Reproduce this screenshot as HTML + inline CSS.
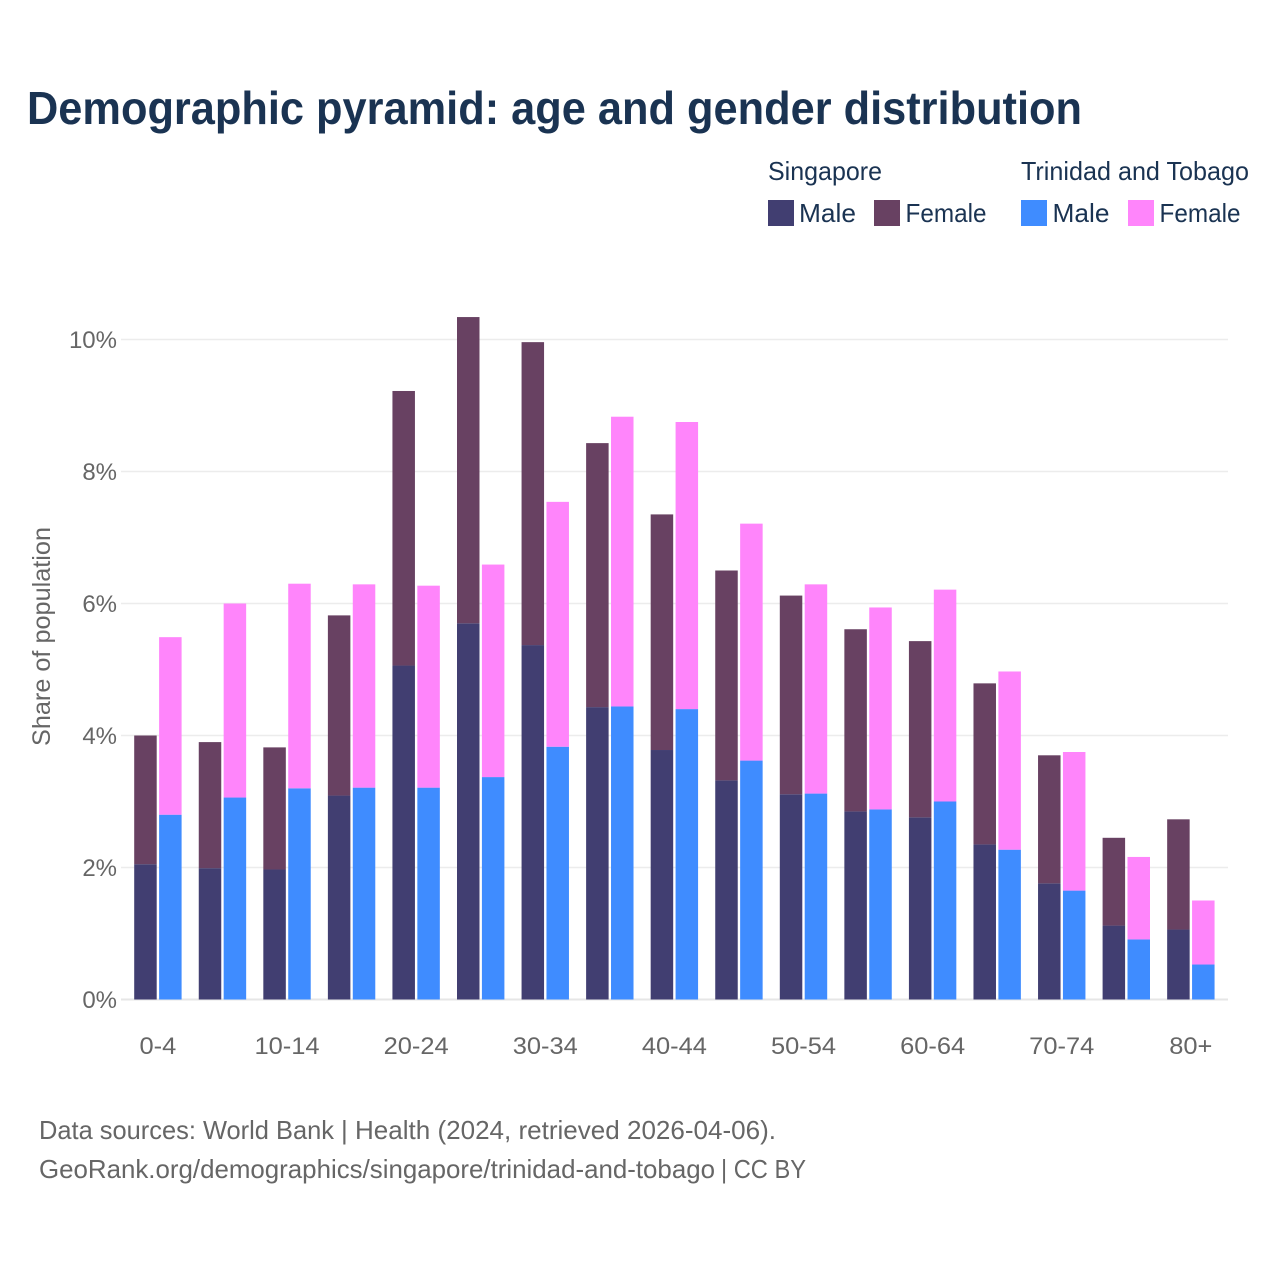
<!DOCTYPE html>
<html lang="en">
<head>
<meta charset="utf-8">
<title>Demographic pyramid: age and gender distribution</title>
<style>
html,body{margin:0;padding:0;background:#fff;width:1280px;height:1280px;overflow:hidden}
svg{display:block}
text{font-family:"Liberation Sans",sans-serif}
</style>
</head>
<body>
<svg id="chart" xmlns="http://www.w3.org/2000/svg" width="1280" height="1280" viewBox="0 0 1280 1280">
<rect x="0" y="0" width="1280" height="1280" fill="#fff"/>
<text x="27" y="124" font-size="46" font-weight="700" fill="#1a3352" textLength="1055" lengthAdjust="spacingAndGlyphs">Demographic pyramid: age and gender distribution</text>

<g font-size="26" fill="#1a3352">
<text x="768" y="180" textLength="114" lengthAdjust="spacingAndGlyphs">Singapore</text>
<text x="1021" y="180" textLength="228" lengthAdjust="spacingAndGlyphs">Trinidad and Tobago</text>
<rect x="768" y="200" width="26" height="26" fill="#413e71"/>
<text x="799" y="222" textLength="57" lengthAdjust="spacingAndGlyphs">Male</text>
<rect x="874" y="200" width="26" height="26" fill="#684162"/>
<text x="905.5" y="222" textLength="81" lengthAdjust="spacingAndGlyphs">Female</text>
<rect x="1021" y="200" width="26" height="26" fill="#3f8cff"/>
<text x="1052.5" y="222" textLength="57" lengthAdjust="spacingAndGlyphs">Male</text>
<rect x="1128" y="200" width="26" height="26" fill="#ff85fb"/>
<text x="1159.5" y="222" textLength="81" lengthAdjust="spacingAndGlyphs">Female</text>
</g>

<g id="grid"></g>
<g id="bars"></g>
<g id="y-ticks"></g>
<g id="x-ticks"></g>

<text transform="translate(50,636.5) rotate(-90)" text-anchor="middle" font-size="25" fill="#666" textLength="219" lengthAdjust="spacingAndGlyphs">Share of population</text>

<text y="1139" font-size="26" fill="#666"><tspan x="39" textLength="295" lengthAdjust="spacingAndGlyphs">Data sources: World Bank</tspan> <tspan x="341" textLength="435" lengthAdjust="spacingAndGlyphs">| Health (2024, retrieved 2026-04-06).</tspan></text>
<text y="1178" font-size="26" fill="#666"><tspan x="39" textLength="676" lengthAdjust="spacingAndGlyphs">GeoRank.org/demographics/singapore/trinidad-and-tobago</tspan> <tspan x="721" textLength="85" lengthAdjust="spacingAndGlyphs">| CC BY</tspan></text>
</svg>

<script>
const categories = ['0-4','5-9','10-14','15-19','20-24','25-29','30-34','35-39','40-44','45-49','50-54','55-59','60-64','65-69','70-74','75-79','80+'];
const xTickLabels = ['0-4','10-14','20-24','30-34','40-44','50-54','60-64','70-74','80+'];
const yTickValues = [0,2,4,6,8,10];
const singaporeMale = [2.05,1.99,1.97,3.09,5.06,5.70,5.37,4.43,3.78,3.32,3.11,2.85,2.76,2.35,1.76,1.12,1.06];
const singaporeFemale = [1.95,1.91,1.85,2.73,4.16,4.64,4.59,4.00,3.57,3.18,3.01,2.76,2.67,2.44,1.94,1.33,1.67];
const trinidadMale = [2.80,3.06,3.20,3.21,3.21,3.37,3.83,4.44,4.40,3.62,3.12,2.88,3.00,2.27,1.65,0.91,0.53];
const trinidadFemale = [2.69,2.94,3.10,3.08,3.06,3.22,3.71,4.39,4.35,3.59,3.17,3.06,3.21,2.70,2.10,1.25,0.97];

const NS = 'http://www.w3.org/2000/svg';
const plotLeft = 121, plotRight = 1228;
const yZero = 999.5, pxPerUnit = 66;
const firstCenter = 157.9, bandStep = 64.56;
const barWidth = 22.5, barGap = 1.2;
const xLabelStretch = 1.06;

function yScale(v){ return yZero - v * pxPerUnit; }
function xCenter(i){ return firstCenter + i * bandStep; }

const gridG = document.getElementById('grid');
const yTickG = document.getElementById('y-ticks');
yTickValues.forEach(function(v){
  const line = document.createElementNS(NS,'line');
  
  
  line.setAttribute('x1', plotLeft);
  line.setAttribute('x2', plotRight);
  line.setAttribute('y1', yScale(v));
  line.setAttribute('y2', yScale(v));
  line.setAttribute('stroke', v === 0 ? '#e6e6e6' : '#ececec');
  line.setAttribute('stroke-width', v === 0 ? 2 : 1.5);
  gridG.appendChild(line);
  const t = document.createElementNS(NS,'text');
  
  
  t.setAttribute('x', 117);
  t.setAttribute('y', yScale(v) + 8.5);
  t.setAttribute('text-anchor', 'end');
  t.setAttribute('font-size', 24);
  t.setAttribute('fill', '#666');
  t.textContent = v + '%';
  yTickG.appendChild(t);
});

const barsG = document.getElementById('bars');
function addBar(x, base, value, fill){
  const r = document.createElementNS(NS,'rect');
  
  
  r.setAttribute('x', x);
  r.setAttribute('width', barWidth);
  r.setAttribute('y', yScale(base + value));
  r.setAttribute('height', value * pxPerUnit);
  r.setAttribute('fill', fill);
  barsG.appendChild(r);
}
categories.forEach(function(c, i){
  const cx = xCenter(i);
  const leftX = cx - barGap - barWidth;
  const rightX = cx + barGap;
  addBar(leftX, 0, singaporeMale[i], '#413e71');
  addBar(leftX, singaporeMale[i], singaporeFemale[i], '#684162');
  addBar(rightX, 0, trinidadMale[i], '#3f8cff');
  addBar(rightX, trinidadMale[i], trinidadFemale[i], '#ff85fb');
});

const xTickG = document.getElementById('x-ticks');
xTickLabels.forEach(function(label){
  const t = document.createElementNS(NS,'text');
  
  
  t.setAttribute('x', xCenter(categories.indexOf(label)));
  t.setAttribute('y', 1054);
  t.setAttribute('text-anchor', 'middle');
  t.setAttribute('font-size', 24);
  t.setAttribute('fill', '#666');
  t.textContent = label;
  xTickG.appendChild(t);
  t.setAttribute('lengthAdjust', 'spacingAndGlyphs');
  t.setAttribute('textLength', t.getComputedTextLength() * xLabelStretch);
});
</script>
</body>
</html>
